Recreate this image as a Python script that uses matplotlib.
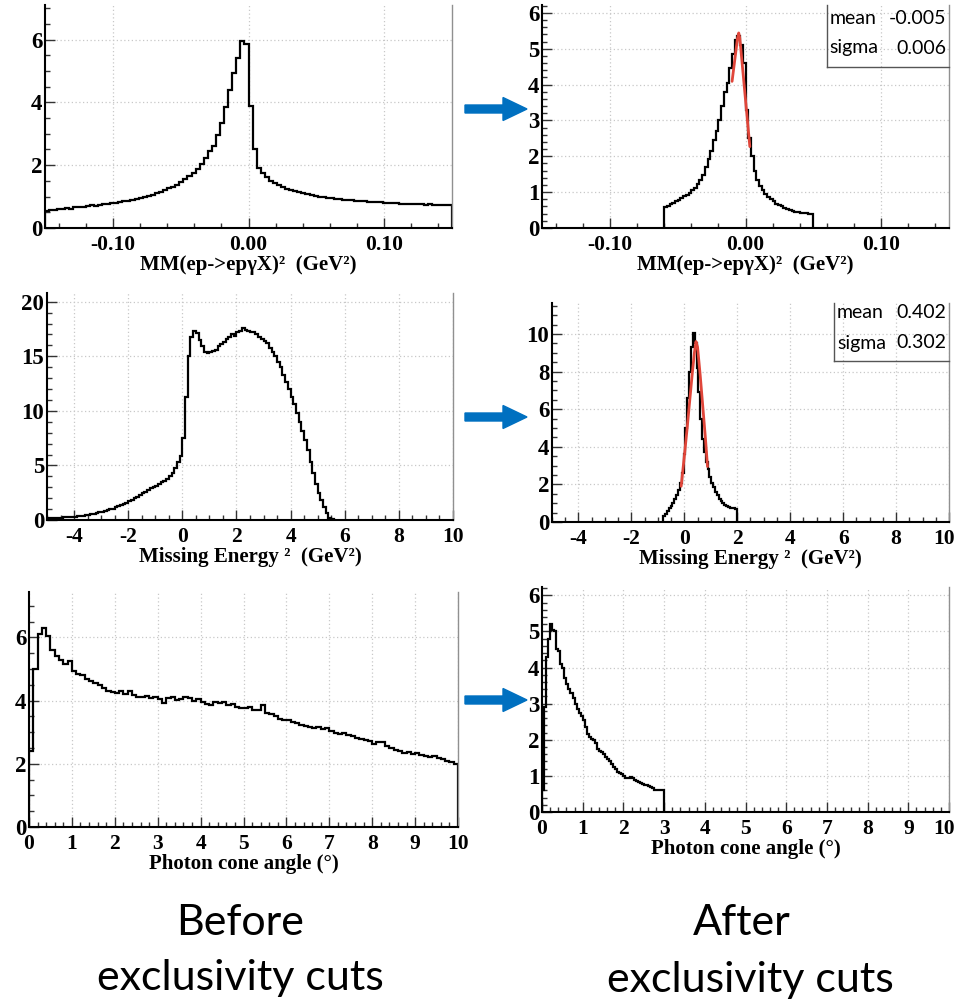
import matplotlib
matplotlib.use("Agg")
import matplotlib.pyplot as plt
import numpy as np
from matplotlib.ticker import MultipleLocator, FixedLocator
from matplotlib.patches import FancyArrow
from matplotlib.lines import Line2D
from matplotlib.transforms import ScaledTranslation

plt.rcParams['font.family'] = ['Liberation Serif', 'DejaVu Serif']
plt.rcParams['font.weight'] = 'bold'
plt.rcParams['axes.unicode_minus'] = False

# ---------------- DATA ----------------
# Panel 1: MM^2 before cuts (bins of 0.003 from -0.15 to 0.15)
p1_range = (-0.15, 0.15)
p1_counts = [0.55, 0.57, 0.56, 0.60, 0.61, 0.63, 0.62, 0.66, 0.67, 0.66,
             0.70, 0.72, 0.71, 0.74, 0.76, 0.77, 0.79, 0.80, 0.83, 0.85,
             0.86, 0.90, 0.93, 0.97, 1.00, 1.01, 1.06, 1.10, 1.14, 1.22,
             1.27, 1.32, 1.38, 1.45, 1.55, 1.64, 1.75, 1.88, 2.05, 2.22,
             2.45, 2.62, 2.95, 3.35, 3.85, 4.40, 4.95, 5.40, 5.95, 5.85,
             3.90, 2.50, 1.90, 1.75, 1.62, 1.50, 1.42, 1.36, 1.30, 1.25,
             1.22, 1.18, 1.14, 1.10, 1.08, 1.05, 1.03, 1.00, 0.98, 0.96,
             0.95, 0.93, 0.92, 0.90, 0.89, 0.88, 0.86, 0.87, 0.85, 0.84,
             0.83, 0.84, 0.82, 0.80, 0.81, 0.79, 0.80, 0.78, 0.77, 0.78,
             0.76, 0.77, 0.75, 0.74, 0.75, 0.73, 0.74, 0.72, 0.73, 0.72]

# Panel 2: MM^2 after cuts (bins of 0.002 from -0.06 to 0.05)
p2_range = (-0.06, 0.05)
p2_counts = [0.58, 0.62, 0.66, 0.70, 0.74, 0.78, 0.84, 0.88, 0.93, 0.99,
             1.05, 1.12, 1.22, 1.33, 1.48, 1.70, 1.92, 2.15, 2.45, 2.70,
             3.00, 3.40, 3.80, 4.05, 4.45, 4.85, 5.25, 5.35, 5.10, 4.60,
             3.30, 2.50, 2.00, 1.60, 1.35, 1.17, 1.05, 0.95, 0.86, 0.80,
             0.74, 0.68, 0.63, 0.60, 0.56, 0.53, 0.50, 0.48, 0.46, 0.44,
             0.43, 0.42, 0.41, 0.39, 0.38]
fit1_x = [-0.0099, -0.0090, -0.0080, -0.0070, -0.0060, -0.0050, -0.0042,
          -0.0030, -0.0020, -0.0010, 0.0000, 0.0010, 0.0020, 0.0032]
fit1_y = [4.09, 4.36, 4.66, 4.96, 5.27, 5.44, 5.30, 4.81, 4.40, 3.99,
          3.58, 3.17, 2.76, 2.27]
stats1 = [("mean", "-0.005"), ("sigma", "0.006")]

# Panel 3: Missing energy^2 before cuts (bins of 0.1 from -5.0 to 5.6)
p3_range = (-5.0, 5.6)
p3_counts = [0.15, 0.16, 0.18, 0.19, 0.20, 0.22, 0.23, 0.25, 0.27, 0.29,
             0.31, 0.34, 0.37, 0.40, 0.44, 0.48, 0.52, 0.57, 0.62, 0.70,
             0.76, 0.82, 0.88, 0.97, 1.05, 1.15, 1.25, 1.35, 1.50, 1.60,
             1.72, 1.85, 2.00, 2.15, 2.30, 2.45, 2.60, 2.75, 2.90, 3.00,
             3.15, 3.30, 3.45, 3.60, 3.80, 4.05, 4.35, 4.75, 5.30, 5.90,
             7.50, 11.3, 15.0, 16.8, 17.3, 17.1, 16.5, 15.9, 15.4, 15.3,
             15.4, 15.5, 15.6, 15.9, 16.1, 16.3, 16.6, 16.8, 17.0, 16.9,
             17.2, 17.3, 17.55, 17.4, 17.3, 17.2, 17.2, 17.0, 16.8, 16.6,
             16.4, 16.2, 15.8, 15.4, 15.0, 14.5, 14.0, 13.3, 12.6, 12.0,
             11.3, 10.6, 9.8, 9.0, 8.2, 7.3, 6.4, 5.3, 4.3, 3.3,
             2.5, 1.8, 1.2, 0.6, 0.2, 0.05]

# Panel 4: Missing energy^2 after cuts (bins of 0.07 from -0.8 to 2.0)
p4_range = (-0.8, 2.0)
p4_counts = [0.30, 0.45, 0.60, 0.72, 0.85, 1.00, 1.20, 1.45, 1.70, 2.05,
             2.60, 3.60, 5.00, 6.60, 8.00, 9.30, 10.05, 9.50, 8.20, 6.90,
             5.50, 4.40, 3.70, 3.20, 2.80, 2.40, 2.10, 1.85, 1.60, 1.45,
             1.25, 1.12, 1.02, 0.92, 0.85, 0.80, 0.76, 0.74, 0.72, 0.70]
fit2_x = [-0.12, 0.0, 0.1, 0.2, 0.3, 0.38, 0.44, 0.50, 0.60, 0.70, 0.80, 0.876]
fit2_y = [1.9, 3.5, 4.9, 6.4, 7.9, 9.0, 9.6, 9.3, 7.8, 6.1, 4.4, 2.95]
stats2 = [("mean", "0.402"), ("sigma", "0.302")]

# Panel 5: photon cone angle before cuts (bins of 0.1 from 0 to 10)
p5_range = (0.0, 10.0)
p5_counts = [2.40, 5.00, 6.10, 6.30, 6.05, 5.60, 5.40, 5.30, 5.15, 5.25,
             4.95, 4.85, 4.80, 4.70, 4.62, 4.55, 4.50, 4.40, 4.30, 4.28,
             4.25, 4.30, 4.22, 4.32, 4.18, 4.12, 4.10, 4.14, 4.08, 4.12,
             4.05, 3.92, 4.08, 4.10, 4.02, 4.05, 4.10, 4.08, 4.00, 4.05,
             3.95, 3.90, 3.85, 3.95, 3.92, 3.95, 3.85, 3.88, 3.80, 3.78,
             3.76, 3.80, 3.70, 3.72, 3.85, 3.62, 3.58, 3.50, 3.42, 3.38,
             3.40, 3.32, 3.30, 3.22, 3.20, 3.18, 3.15, 3.18, 3.10, 3.12,
             3.05, 2.98, 2.95, 2.98, 2.90, 2.88, 2.82, 2.80, 2.75, 2.72,
             2.62, 2.70, 2.68, 2.55, 2.50, 2.45, 2.40, 2.35, 2.38, 2.32,
             2.35, 2.28, 2.25, 2.22, 2.24, 2.18, 2.15, 2.10, 2.05, 2.00]

# Panel 6: photon cone angle after cuts (bins of 0.05 from 0 to 3)
p6_range = (0.0, 3.0)
p6_counts = [0.60, 2.90, 4.30, 4.80, 5.20, 5.05, 5.00, 4.50, 4.45, 4.10,
             4.00, 3.70, 3.55, 3.40, 3.30, 3.15, 3.00, 2.85, 2.75, 2.65,
             2.55, 2.35, 2.15, 2.08, 2.02, 1.98, 1.92, 1.75, 1.70, 1.65,
             1.60, 1.53, 1.48, 1.40, 1.32, 1.25, 1.18, 1.12, 1.08, 1.05,
             1.00, 0.95, 0.93, 0.97, 0.95, 0.88, 0.85, 0.82, 0.80, 0.78,
             0.76, 0.74, 0.72, 0.70, 0.66, 0.62, 0.60, 0.61, 0.60, 0.60]

xlabel_mm = "MM(ep->epγX)²  (GeV²)"
xlabel_me = "Missing Energy ²  (GeV²)"
xlabel_cone = "Photon cone angle (°)"
mm_ticks = [-0.10, 0.00, 0.10]
mm_ticklabels = ["-0.10", "0.00", "0.10"]
caption_left = ["Before", "exclusivity cuts"]
caption_right = ["After", "exclusivity cuts"]

# ---------------- FIGURE ----------------
W, H = 957, 1002
fig = plt.figure(figsize=(W / 100, H / 100), dpi=100)
fig.patch.set_facecolor('white')


def fx(x):
    return x / W


def fy(y):
    return 1 - y / H


def px_axes(l, t, r, b):
    return fig.add_axes([l / W, 1 - b / H, (r - l) / W, (b - t) / H])


def style(ax, box, xlim, ylim, xmaj, xmin, ymaj, ymin, xlabel,
          ytsize=16.5, xtsize=15.5):
    l, t, r, b = box
    ax.set_xlim(*xlim)
    ax.set_ylim(*ylim)
    if isinstance(xmaj, list):
        ax.xaxis.set_major_locator(FixedLocator(xmaj))
    else:
        ax.xaxis.set_major_locator(MultipleLocator(xmaj))
    ax.xaxis.set_minor_locator(MultipleLocator(xmin))
    ax.yaxis.set_major_locator(MultipleLocator(ymaj))
    ax.yaxis.set_minor_locator(MultipleLocator(ymin))
    ax.grid(True, which='major', linestyle=(0, (1, 2)), color='#c8c8c8', linewidth=0.9)
    ax.set_axisbelow(True)
    ax.spines['top'].set_visible(False)
    ax.spines['right'].set_color('#909090')
    ax.spines['right'].set_linewidth(1.0)
    for s in ['left', 'bottom']:
        ax.spines[s].set_color('black')
        ax.spines[s].set_linewidth(1.5)
    ax.tick_params(which='both', direction='in', color='#333333', width=1.0,
                   top=False, right=False)
    ax.tick_params(which='major', length=7)
    ax.tick_params(which='minor', length=3.5)
    ax.tick_params(axis='x', which='major', labelsize=xtsize, pad=5)
    ax.tick_params(axis='y', which='major', labelsize=ytsize, pad=2)
    ax.set_xlabel(xlabel, fontsize=15, fontweight='bold')
    ax.xaxis.set_label_coords(0.5, -37.0 / (b - t))
    ax.xaxis.label.set_va('center')


def keep_last_label_inside(ax, shift_px):
    ticks = ax.xaxis.get_major_ticks()
    locs = ax.xaxis.get_majorticklocs()
    for tk, loc in zip(ticks, locs):
        if abs(loc - ax.get_xlim()[1]) < 1e-9:
            lab = tk.label1
            lab.set_horizontalalignment('right')
            lab.set_transform(lab.get_transform() +
                              ScaledTranslation(shift_px / 100, 0, fig.dpi_scale_trans))


def draw_hist(ax, counts, rng):
    edges = np.linspace(rng[0], rng[1], len(counts) + 1)
    ax.stairs(counts, edges, baseline=0, color='black', linewidth=1.6, fill=False)


def stats_box(box_l, box_b, right, top, rows, ys):
    fig.add_artist(Line2D([fx(box_l), fx(box_l)], [fy(top), fy(box_b)],
                          transform=fig.transFigure, color='#555555', lw=1.0))
    fig.add_artist(Line2D([fx(box_l), fx(right)], [fy(box_b), fy(box_b)],
                          transform=fig.transFigure, color='#555555', lw=1.0))
    for (name, val), yy in zip(rows, ys):
        fig.text(fx(box_l + 3), fy(yy), name, ha='left', va='center',
                 fontsize=14, fontweight='normal', family=['Lato', 'DejaVu Sans'])
        fig.text(fx(right - 3), fy(yy), val, ha='right', va='center',
                 fontsize=14, fontweight='normal', family=['Lato', 'DejaVu Sans'])


# Panel 1
b1 = (45, 5, 452, 228)
ax1 = px_axes(*b1)
draw_hist(ax1, p1_counts, p1_range)
style(ax1, b1, (-0.15, 0.15), (0, 7.1), mm_ticks, 0.02, 2, 0.5, xlabel_mm)
ax1.set_xticklabels(mm_ticklabels)

# Panel 2
b2 = (542, 5, 949, 228)
ax2 = px_axes(*b2)
draw_hist(ax2, p2_counts, p2_range)
ax2.plot(fit1_x, fit1_y, color='#e0463a', lw=2.0, solid_capstyle='round')
style(ax2, b2, (-0.15, 0.15), (0, 6.22), mm_ticks, 0.02, 1, 0.2, xlabel_mm)
ax2.set_xticklabels(mm_ticklabels)
stats_box(826.5, 66.5, 949, 5, stats1, [18, 48])

# Panel 3
b3 = (47, 293, 453, 520)
ax3 = px_axes(*b3)
draw_hist(ax3, p3_counts, p3_range)
style(ax3, b3, (-5, 10), (0, 20.8), 2, 0.5, 5, 1, xlabel_me)

# Panel 4
b4 = (552, 303, 949, 522)
ax4 = px_axes(*b4)
draw_hist(ax4, p4_counts, p4_range)
ax4.plot(fit2_x, fit2_y, color='#e0463a', lw=2.0, solid_capstyle='round')
style(ax4, b4, (-5, 10), (0, 11.65), 2, 0.5, 2, 0.5, xlabel_me)
keep_last_label_inside(ax4, 6)
stats_box(834, 361.5, 949, 303, stats2, [313, 343])

# Panel 5
b5 = (29, 592, 458, 827)
ax5 = px_axes(*b5)
draw_hist(ax5, p5_counts, p5_range)
style(ax5, b5, (0, 10), (0, 7.44), 1, 0.2, 2, 0.5, xlabel_cone)

# Panel 6
b6 = (542, 587, 949, 812)
ax6 = px_axes(*b6)
draw_hist(ax6, p6_counts, p6_range)
style(ax6, b6, (0, 10), (0, 6.23), 1, 0.2, 1, 0.2, xlabel_cone)
keep_last_label_inside(ax6, 6)

# Arrows
for yc in [109, 417, 700]:
    arr = FancyArrow(fx(465), fy(yc), (527 - 465) / W, 0,
                     width=8 / H, head_width=23 / H, head_length=24 / W,
                     length_includes_head=True, color='#0070C0',
                     transform=fig.transFigure)
    fig.add_artist(arr)

# Captions
cap_kw = dict(ha='center', va='baseline', fontsize=31, fontweight='normal',
              family=['Lato', 'DejaVu Sans'])
fig.text(fx(240), fy(935), caption_left[0], **cap_kw)
fig.text(fx(240), fy(990), caption_left[1], **cap_kw)
fig.text(fx(742), fy(935), caption_right[0], **cap_kw)
fig.text(fx(750), fy(992), caption_right[1], **cap_kw)

fig.savefig("out.png", dpi=100, facecolor='white')
